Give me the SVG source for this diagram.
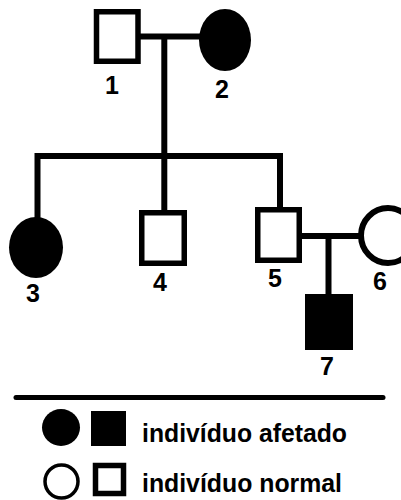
<svg xmlns="http://www.w3.org/2000/svg" width="401" height="500" viewBox="0 0 401 500">
<style>
.line{stroke:#000;stroke-width:6;fill:none}
.sq{fill:#fff;stroke:#000;stroke-width:5.5}
.aff{fill:#000;stroke:none}
.lbl{font-family:"Liberation Sans",Arial,sans-serif;font-weight:bold;font-size:25px;fill:#000;text-anchor:middle}
.leg{font-family:"Liberation Sans",Arial,sans-serif;font-weight:bold;font-size:25px;fill:#000}
</style>
<rect width="401" height="500" fill="#fff"/>
<g id="connectors">
<line class="line" x1="140" y1="36.5" x2="201" y2="36.5"/>
<line class="line" x1="164.3" y1="36.5" x2="164.3" y2="159"/>
<line class="line" x1="35" y1="156" x2="283" y2="156"/>
<line class="line" x1="37.5" y1="153" x2="37.5" y2="219"/>
<line class="line" x1="164.3" y1="156" x2="164.3" y2="211"/>
<line class="line" x1="280" y1="153" x2="280" y2="208"/>
<line class="line" x1="301" y1="236" x2="359" y2="236"/>
<line class="line" x1="328.5" y1="236" x2="328.5" y2="295"/>
</g>
<g id="node1">
<rect class="sq" x="96.5" y="11.75" width="41.5" height="49.5"/>
<text class="lbl" x="112" y="94">1</text>
</g>
<g id="node2">
<ellipse class="aff" cx="225" cy="40" rx="26" ry="31"/>
<text class="lbl" x="222" y="98">2</text>
</g>
<g id="node3">
<ellipse class="aff" cx="36" cy="247.5" rx="27" ry="30.5"/>
<text class="lbl" x="33" y="302">3</text>
</g>
<g id="node4">
<rect class="sq" x="141.75" y="212.75" width="42.5" height="50.5"/>
<text class="lbl" x="160" y="291">4</text>
</g>
<g id="node5">
<rect class="sq" x="257.75" y="209.75" width="41.5" height="50.5"/>
<text class="lbl" x="275" y="287">5</text>
</g>
<g id="node6">
<ellipse cx="388" cy="235.5" rx="27" ry="27.5" fill="#fff" stroke="#000" stroke-width="6"/>
<text class="lbl" x="380" y="290">6</text>
</g>
<g id="node7">
<rect class="aff" x="305" y="294" width="48" height="56"/>
<text class="lbl" x="327" y="375">7</text>
</g>
<g id="legend">
<line x1="16" y1="397.5" x2="383" y2="397.5" stroke="#000" stroke-width="5" stroke-linecap="round"/>
<ellipse class="aff" cx="61" cy="427.5" rx="19" ry="18.5"/>
<rect class="aff" x="91" y="411" width="35" height="35"/>
<text class="leg" x="142" y="442" textLength="205" lengthAdjust="spacingAndGlyphs">indivíduo afetado</text>
<ellipse cx="61.5" cy="481.5" rx="16.5" ry="16.5" fill="#fff" stroke="#000" stroke-width="3.5"/>
<rect class="sq" x="95.5" y="465.5" width="28" height="28" stroke-width="5"/>
<text class="leg" x="142" y="492" textLength="200" lengthAdjust="spacingAndGlyphs">indivíduo normal</text>
</g>
</svg>
